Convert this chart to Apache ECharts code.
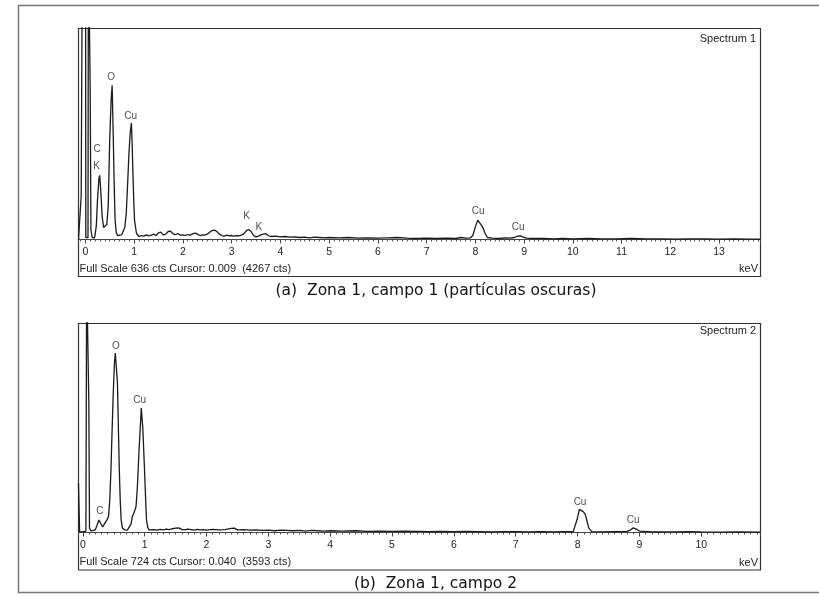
<!DOCTYPE html>
<html><head><meta charset="utf-8">
<script src="https://cdn.jsdelivr.net/npm/echarts@6/dist/echarts.min.js"></script>
<style>html,body{margin:0;padding:0;background:#fff}#c{width:819px;height:596px}</style>
</head><body><div id="c"></div>
<script>
// ---- Spectrum 1 (keV, counts) ----
const energy1 = [
 -0.14,-0.10,-0.085,-0.06,0.005,0.01,0.055,0.063,0.095,0.10,
 0.115,0.14,0.19,0.225,0.25,0.28,0.295,0.315,0.345,0.375,
 0.395,0.415,0.44,0.47,0.50,0.53,0.55,0.57,0.59,0.61,
 0.635,0.665,0.705,0.745,0.78,0.81,0.84,0.865,0.895,0.92,
 0.945,0.96,0.975,0.995,1.01,1.05,1.10,1.15,1.2,1.25,
 1.3,1.35,1.4,1.45,1.5,1.55,1.6,1.65,1.7,1.75,
 1.8,1.85,1.9,1.95,2.0,2.05,2.1,2.15,2.2,2.25,
 2.3,2.35,2.4,2.45,2.5,2.55,2.6,2.65,2.7,2.75,
 2.8,2.85,2.9,2.95,3.0,3.05,3.1,3.15,3.2,3.25,
 3.3,3.35,3.4,3.45,3.5,3.55,3.6,3.65,3.7,3.75,
 3.8,3.9,4.0,4.1,4.2,4.3,4.4,4.5,4.6,4.7,
 4.8,4.9,5.0,5.2,5.4,5.6,5.8,6.0,6.2,6.4,
 6.6,6.8,7.0,7.2,7.4,7.6,7.7,7.8,7.9,7.95,
 8.0,8.05,8.08,8.12,8.16,8.2,8.25,8.35,8.5,8.6,
 8.7,8.8,8.87,8.92,8.97,9.05,9.2,9.4,9.6,9.8,
 10.0,10.3,10.6,10.9,11.2,11.5,11.8,12.1,12.4,12.7,
 13.0,13.3,13.6,13.84];
const counts1 = [
 0,4,130,900,900,6,6,900,900,452,
 30,6,5,40,120,185,193,150,70,36,
 42,30,45,100,300,420,464,330,180,60,
 20,12,10,14,20,36,80,157,259,320,
 350,290,208,110,57,18,9,12,10,14,
 11,13,16,12,20,22,14,16,24,25,
 17,15,18,13,14,12,15,13,17,19,
 16,12,14,13,16,22,27,28,24,16,
 12,10,13,11,12,10,12,11,13,17,
 26,30,24,12,8,10,14,16,18,12,
 9,10,8,9,7,8,6,7,5,7,
 6,5,6,5,6,4,5,4,5,6,
 4,3,4,3,4,3,6,4,5,12,
 38,58,62,44,34,18,6,4,3,5,
 4,6,10,11,8,4,3,3,2,3,
 2,3,2,2,3,2,2,1,2,2,
 1,2,1,1];
const ticks1 = [0,1,2,3,4,5,6,7,8,9,10,11,12,13];
const peakNames1 = ['O','Cu','C','K','K','K','Cu','Cu'];
const peakE1 = [0.53,0.93,0.24,0.23,3.31,3.56,8.06,8.88];
const peakC1 = [489,371,271,221,69,37,84,37];

// ---- Spectrum 2 (keV, counts) ----
const energy2 = [
 -0.07,-0.058,-0.052,0.0,0.05,0.062,0.09,0.097,0.108,0.13,
 0.16,0.2,0.23,0.26,0.29,0.32,0.345,0.37,0.395,0.415,
 0.435,0.455,0.47,0.49,0.51,0.525,0.545,0.56,0.575,0.59,
 0.605,0.62,0.64,0.68,0.72,0.75,0.78,0.80,0.83,0.86,
 0.88,0.895,0.91,0.927,0.945,0.955,0.97,0.98,0.995,1.008,
 1.02,1.03,1.05,1.07,1.1,1.15,1.2,1.25,1.3,1.35,
 1.4,1.45,1.5,1.55,1.6,1.65,1.7,1.75,1.8,1.85,
 1.9,1.95,2.0,2.1,2.2,2.3,2.4,2.45,2.5,2.6,
 2.7,2.8,2.9,3.0,3.1,3.2,3.3,3.4,3.5,3.6,
 3.7,3.8,3.9,4.0,4.2,4.4,4.6,4.8,5.0,5.2,
 5.4,5.6,5.8,6.0,6.2,6.4,6.6,6.8,7.0,7.2,
 7.4,7.6,7.8,7.93,7.99,8.03,8.06,8.09,8.12,8.14,
 8.18,8.23,8.4,8.6,8.8,8.85,8.9,8.95,9.0,9.2,
 9.4,9.6,9.8,10.0,10.3,10.6,10.95];
const counts2 = [
 170,170,3,2,5,900,900,448,15,6,
 8,9,25,43,42,19,28,37,45,55,
 110,216,330,469,580,620,622,517,360,216,
 110,43,15,9,8,12,30,55,70,89,
 150,216,290,354,430,425,360,309,230,158,
 90,43,18,9,7,10,8,11,9,12,
 10,13,15,16,11,9,12,10,8,11,
 9,10,8,11,9,10,14,15,9,10,
 8,9,7,8,6,8,7,6,7,5,
 7,6,5,6,5,6,4,5,4,5,
 4,3,4,3,4,3,2,3,3,2,
 3,2,3,3,43,80,78,72,65,50,
 16,3,2,3,4,8,16,12,5,2,
 2,2,3,2,1,2,1];
const ticks2 = [0,1,2,3,4,5,6,7,8,9,10];
const peakNames2 = ['O','Cu','C','Cu','Cu'];
const peakE2 = [0.534,0.92,0.275,8.04,8.90];
const peakC2 = [645,458,72,103,43];

const chart = echarts.init(document.getElementById('c'), null, {renderer:'canvas'});
const smallFont = 'Liberation Sans, Arial, sans-serif';
function isInt(v){ return Math.abs(v - Math.round(v)) < 1e-6; }

function xAxisCfg(grid, min, max, split){
  return {
    type:'value', gridIndex:grid, min:min, max:max, splitNumber:split,
    axisLine:{show:true, onZero:false, lineStyle:{color:'#444', width:1}},
    axisTick:{show:true, length:4, lineStyle:{color:'#444', width:1}},
    minorTick:{show:true, splitNumber:10, length:2, lineStyle:{color:'#555', width:1}},
    splitLine:{show:false}, minorSplitLine:{show:false},
    axisLabel:{show:true, margin:7, fontSize:10.5, color:'#222', fontFamily:smallFont,
      showMinLabel:false, showMaxLabel:false,
      formatter:function(v){ return isInt(v) ? String(Math.round(v)) : ''; }}
  };
}
function yAxisCfg(grid, max){
  return {type:'value', gridIndex:grid, min:0, max:max, show:false};
}
function lineSeries(idx, E, C){
  return {type:'line', xAxisIndex:idx, yAxisIndex:idx, data:E.map((e,i)=>[e,C[i]]),
    symbol:'none', showSymbol:false, clip:true, animation:false,
    lineStyle:{color:'#1a1a1a', width:1.3}};
}
function labelSeries(idx, N, E, C){
  return {type:'scatter', xAxisIndex:idx, yAxisIndex:idx, silent:true, z:5,
    data:E.map((e,i)=>({value:[e,C[i]], name:N[i]})), symbolSize:2,
    itemStyle:{color:'rgba(0,0,0,0)'},
    label:{show:true, position:'inside', formatter:'{b}', fontSize:10,
      color:'#1a1a1a', fontFamily:smallFont}};
}
function txt(x, y, s, font, align, color){
  return {type:'text', x:x, y:y, silent:true,
    style:{text:s, font:font, fill:color||'#222', textAlign:align||'left', align:align||'left',
      textVerticalAlign:'middle', verticalAlign:'middle'}};
}

const sm = '11px ' + smallFont;
const cap = '15.5px "DejaVu Sans", Verdana, sans-serif';

chart.setOption({
  animation:false,
  backgroundColor:'#fff',
  grid:[
    {left:78.5, right:59, top:28, height:211.5, containLabel:false},
    {left:78.5, right:59, top:323, height:209.5, containLabel:false}
  ],
  xAxis:[ xAxisCfg(0, -0.14, 13.84, 14), xAxisCfg(1, -0.07, 10.95, 11) ],
  yAxis:[ yAxisCfg(0, 636), yAxisCfg(1, 724) ],
  series:[
    lineSeries(0, energy1, counts1),
    lineSeries(1, energy2, counts2),
    labelSeries(0, peakNames1, peakE1, peakC1),
    labelSeries(1, peakNames2, peakE2, peakC2)
  ],
  graphic:[
    {type:'rect', silent:true, shape:{x:18.5, y:5.5, width:820, height:587}, style:{fill:'none', stroke:'#777', lineWidth:1.5}},
    {type:'rect', silent:true, shape:{x:78.5, y:28.5, width:682, height:248}, style:{fill:'none', stroke:'#333', lineWidth:1.2}},
    {type:'rect', silent:true, shape:{x:78.5, y:323.5, width:682, height:246.5}, style:{fill:'none', stroke:'#333', lineWidth:1.2}},
    txt(756, 38.5, 'Spectrum 1', sm, 'right'),
    txt(756, 331, 'Spectrum 2', sm, 'right'),
    txt(79.5, 268.5, 'Full Scale 636 cts Cursor: 0.009  (4267 cts)', sm, 'left'),
    txt(79.5, 562, 'Full Scale 724 cts Cursor: 0.040  (3593 cts)', sm, 'left'),
    txt(758, 268.5, 'keV', sm, 'right'),
    txt(758, 562.5, 'keV', sm, 'right'),
    txt(436, 291, '(a)  Zona 1, campo 1 (partículas oscuras)', cap, 'center', '#111'),
    txt(435.5, 584, '(b)  Zona 1, campo 2', cap, 'center', '#111')
  ]
});
</script>
</body></html>
